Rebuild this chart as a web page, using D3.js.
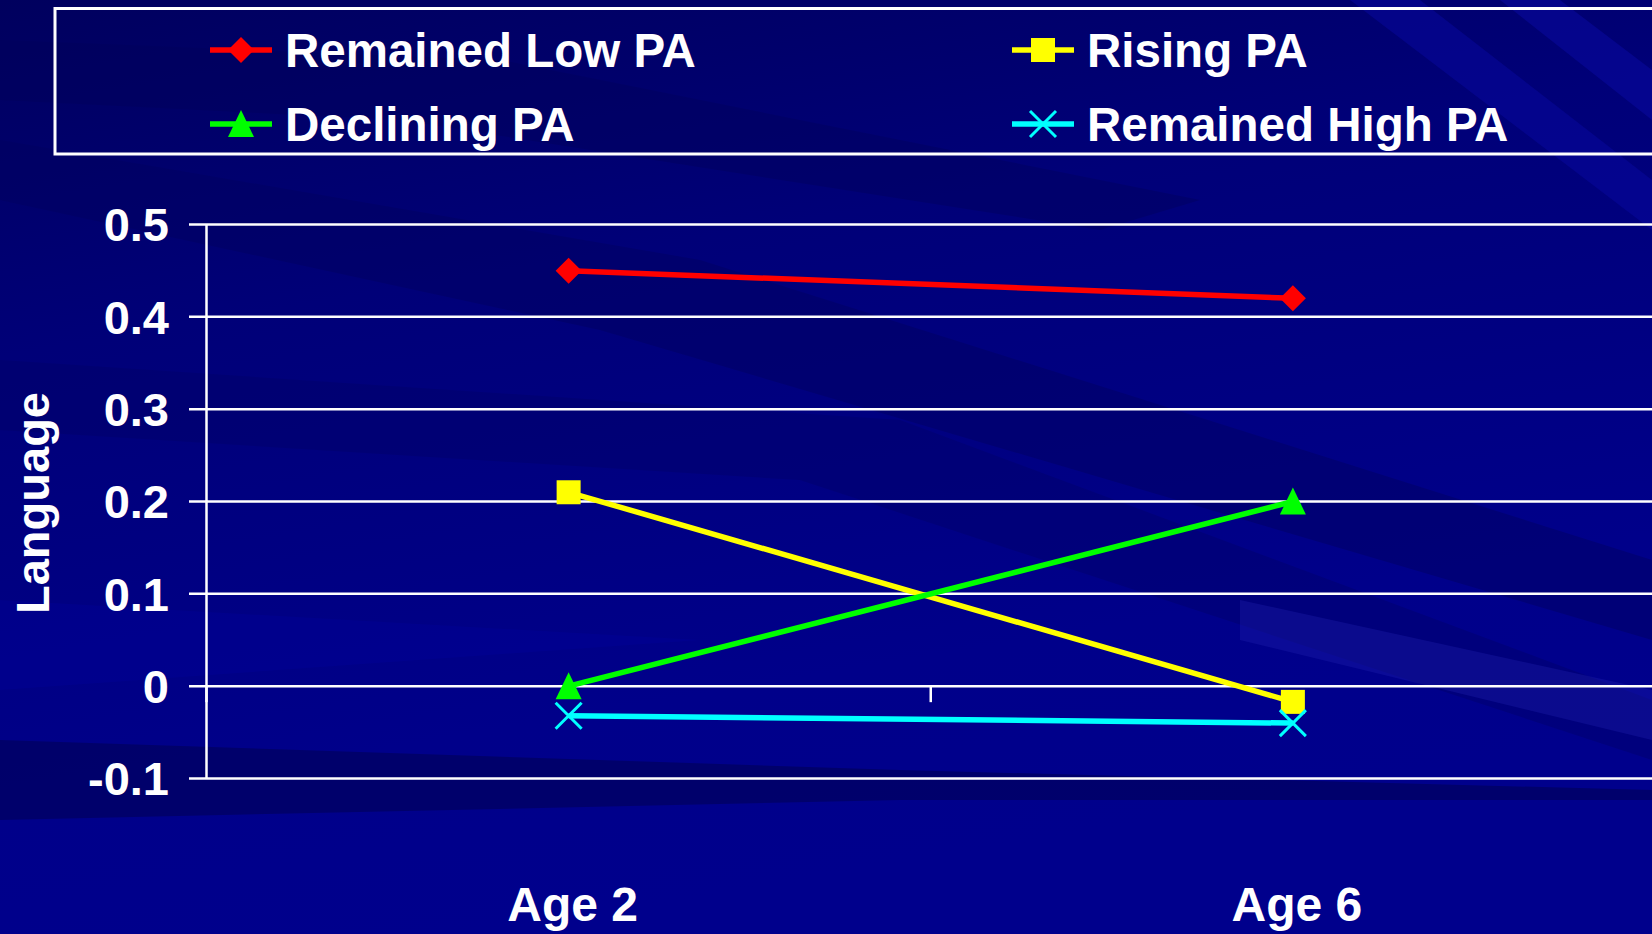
<!DOCTYPE html>
<html>
<head>
<meta charset="utf-8">
<script src="https://cdn.jsdelivr.net/npm/d3@7"></script>
<style>
  body { margin: 0; background: #00008a; overflow: hidden; }
  svg text { font-family: "Liberation Sans", Arial, sans-serif; font-weight: bold; fill: #fff; }
</style>
</head>
<body>
<div id="chart"></div>
<script>
// data
var categories = ["Age 2", "Age 6"];
var seriesNames = ["Remained Low PA", "Rising PA", "Declining PA", "Remained High PA"];
var lowPA = [0.45, 0.42];
var risingPA = [0.21, -0.017];
var decliningPA = [0.0, 0.2];
var highPA = [-0.032, -0.04];
var yTicks = [-0.1, 0, 0.1, 0.2, 0.3, 0.4, 0.5];
var yTickLabels = ["-0.1", "0", "0.1", "0.2", "0.3", "0.4", "0.5"];

var width = 1652, height = 934;

var svg = d3.select("#chart")
  .append("svg")
    .attr("width", width)
    .attr("height", height);

// background: navy with diagonal streaks
var defs = svg.append("defs");
var grad = defs.append("linearGradient")
    .attr("id", "bg")
    .attr("x1", 0).attr("y1", 0).attr("x2", 0.3).attr("y2", 1);
grad.append("stop").attr("offset", 0).attr("stop-color", "#00005e");
grad.append("stop").attr("offset", 0.35).attr("stop-color", "#000078");
grad.append("stop").attr("offset", 0.8).attr("stop-color", "#00008a");
grad.append("stop").attr("offset", 1).attr("stop-color", "#00008c");

svg.append("rect")
    .attr("width", width).attr("height", height)
    .attr("fill", "url(#bg)");

var streaks = [
  {pts: [[0,140],[700,260],[1652,560],[1652,640],[600,330],[0,200]], c: "#000060", o: 0.45},
  {pts: [[0,360],[900,420],[1652,700],[1652,760],[800,480],[0,430]], c: "#000066", o: 0.4},
  {pts: [[0,740],[900,770],[1652,790],[1652,800],[900,800],[0,820]], c: "#00005e", o: 0.7},
  {pts: [[1240,600],[1652,690],[1652,740],[1240,640]], c: "#2020b0", o: 0.35},
  {pts: [[1350,0],[1420,0],[1652,180],[1652,230]], c: "#0808a0", o: 0.5},
  {pts: [[1500,0],[1560,0],[1652,70],[1652,120]], c: "#0a0aa4", o: 0.5},
  {pts: [[0,40],[500,60],[1200,200],[1100,230],[400,120],[0,100]], c: "#00005a", o: 0.4},
  {pts: [[0,600],[700,640],[0,690]], c: "#00009a", o: 0.35}
];
svg.append("g").selectAll("path")
  .data(streaks)
  .join("path")
    .attr("d", function(d) { return d3.line()(d.pts) + "Z"; })
    .attr("fill", function(d) { return d.c; })
    .attr("opacity", function(d) { return d.o; });

// scales
var x = d3.scaleBand()
  .domain(categories)
  .range([206.5, 1655]);

var y = d3.scaleLinear()
  .domain([-0.1, 0.5])
  .range([778.5, 224.5]);

// gridlines
svg.append("g")
  .selectAll("line")
  .data(yTicks)
  .join("line")
    .attr("x1", 189).attr("x2", width)
    .attr("y1", function(d) { return y(d); })
    .attr("y2", function(d) { return y(d); })
    .attr("stroke", "#fff")
    .attr("stroke-width", 2.5);

// y axis
svg.append("line")
    .attr("x1", 206.5).attr("x2", 206.5)
    .attr("y1", y(0.5)).attr("y2", y(-0.1))
    .attr("stroke", "#fff").attr("stroke-width", 2.5);

svg.append("g")
  .selectAll("text")
  .data(yTicks)
  .join("text")
    .attr("x", 169)
    .attr("y", function(d) { return y(d); })
    .attr("dy", "0.36em")
    .attr("text-anchor", "end")
    .attr("font-size", 47)
    .text(function(d, i) { return yTickLabels[i]; });

// x axis at zero with tick marks between categories
var xTickPos = [x.range()[0], x("Age 6"), x.range()[1]];
svg.append("g")
  .selectAll("line")
  .data(xTickPos)
  .join("line")
    .attr("x1", function(d) { return d; })
    .attr("x2", function(d) { return d; })
    .attr("y1", y(0)).attr("y2", y(0) + 16)
    .attr("stroke", "#fff").attr("stroke-width", 2.5);

svg.append("g")
  .selectAll("text")
  .data(categories)
  .join("text")
    .attr("x", function(d) { return x(d) + x.bandwidth() / 2 + 4; })
    .attr("y", 921)
    .attr("text-anchor", "middle")
    .attr("font-size", 48)
    .text(function(d) { return d; });

svg.append("text")
    .attr("transform", "translate(32,503) rotate(-90)")
    .attr("dy", "0.36em")
    .attr("text-anchor", "middle")
    .attr("font-size", 47)
    .text("Language");

// series
var series = [
  {name: seriesNames[0], values: lowPA, color: "#ff0000", shape: "diamond"},
  {name: seriesNames[1], values: risingPA, color: "#ffff00", shape: "square"},
  {name: seriesNames[2], values: decliningPA, color: "#00ff00", shape: "triangle"},
  {name: seriesNames[3], values: highPA, color: "#00ffff", shape: "cross"}
];

function drawMarker(g, shape, color) {
  if (shape == "diamond") {
    g.append("path").attr("d", "M0,-13L13,0L0,13L-13,0Z").attr("fill", color);
  } else if (shape == "square") {
    g.append("rect").attr("x", -12).attr("y", -12).attr("width", 24).attr("height", 24).attr("fill", color);
  } else if (shape == "triangle") {
    g.append("path").attr("d", "M0,-27L13,0L-13,0Z").attr("transform", "translate(0,13)").attr("fill", color);
  } else {
    g.append("path").attr("d", "M-13,-13L13,13M-13,13L13,-13")
      .attr("stroke", color).attr("stroke-width", 3).attr("fill", "none");
  }
}

var cx = function(i) { return x(categories[i]) + x.bandwidth() / 2; };

series.forEach(function(s) {
  svg.append("path")
    .datum(s.values)
    .attr("fill", "none")
    .attr("stroke", s.color)
    .attr("stroke-width", 5.5)
    .attr("d", d3.line()
      .x(function(d, i) { return cx(i); })
      .y(function(d) { return y(d); })
    );
});
series.forEach(function(s) {
  s.values.forEach(function(v, i) {
    var g = svg.append("g").attr("transform", "translate(" + cx(i) + "," + y(v) + ")");
    drawMarker(g, s.shape, s.color);
  });
});

// legend
svg.append("rect")
    .attr("x", 55).attr("y", 8.5)
    .attr("width", 1620).attr("height", 145.5)
    .attr("fill", "none")
    .attr("stroke", "#fff").attr("stroke-width", 3);

var legendPos = [[241, 50], [1043, 50], [241, 124], [1043, 124]];
series.forEach(function(s, i) {
  var g = svg.append("g").attr("transform", "translate(" + legendPos[i][0] + "," + legendPos[i][1] + ")");
  g.append("line")
    .attr("x1", -31).attr("x2", 31)
    .attr("stroke", s.color).attr("stroke-width", 5.5);
  drawMarker(g, s.shape, s.color);
  g.append("text")
    .attr("x", 44)
    .attr("dy", "0.36em")
    .attr("font-size", 47.5)
    .text(s.name);
});
</script>
</body>
</html>
